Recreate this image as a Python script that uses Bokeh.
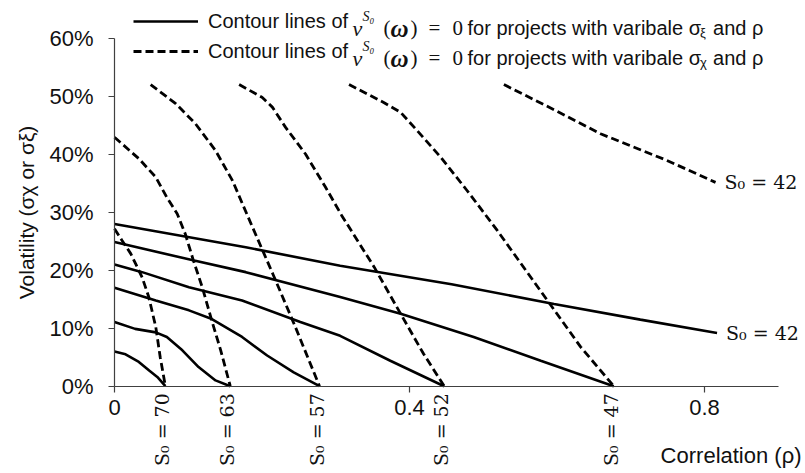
import math
from bokeh.plotting import figure
from bokeh.models import Range1d, FixedTicker, PrintfTickFormatter, Label, Legend, LegendItem
from bokeh.embed import file_html
from bokeh.resources import INLINE

# ---------------- data ----------------
S0_VALUES = [70, 63, 57, 52, 47, 42]

# contour lines, projects with variable sigma_xi and rho (solid)
SOLID_RHO_70 = [0, 0.015, 0.033, 0.047, 0.058, 0.069]
SOLID_SIG_70 = [6.0, 5.5, 4.2, 2.7, 1.6, 0]
SOLID_RHO_63 = [0, 0.028, 0.056, 0.071, 0.092, 0.114, 0.137, 0.157]
SOLID_SIG_63 = [11.1, 9.9, 9.3, 8.5, 6.2, 3.3, 1.0, 0]
SOLID_RHO_57 = [0, 0.056, 0.101, 0.132, 0.173, 0.207, 0.243, 0.278]
SOLID_SIG_57 = [17.0, 14.8, 13.1, 11.6, 8.5, 5.3, 2.4, 0]
SOLID_RHO_52 = [0, 0.0375, 0.101, 0.173, 0.252, 0.306, 0.374, 0.447]
SOLID_SIG_52 = [21.0, 19.7, 17.1, 14.8, 11.1, 8.7, 4.4, 0]
SOLID_RHO_47 = [0, 0.108, 0.178, 0.306, 0.388, 0.487, 0.578, 0.677]
SOLID_SIG_47 = [24.9, 21.7, 19.7, 15.4, 12.5, 8.5, 4.4, 0]
SOLID_RHO_42 = [0, 0.178, 0.306, 0.457, 0.596, 0.713, 0.817]
SOLID_SIG_42 = [28.0, 24.0, 20.8, 17.6, 14.2, 11.5, 9.2]

# contour lines, projects with variable sigma_chi and rho (dashed)
DASH_RHO_70 = [0, 0.010, 0.022, 0.0375, 0.0465, 0.056, 0.062, 0.069]
DASH_SIG_70 = [27.2, 25.2, 22.9, 18.8, 15.4, 10.2, 5.0, 0]
DASH_RHO_63 = [0, 0.033, 0.056, 0.071, 0.085, 0.096, 0.107, 0.119, 0.132, 0.144, 0.157]
DASH_SIG_63 = [43.0, 39.3, 36.1, 32.6, 29.8, 26.3, 21.7, 17.1, 11.3, 6.2, 0]
DASH_RHO_57 = [0.049, 0.083, 0.110, 0.137, 0.160, 0.187, 0.215, 0.245, 0.278]
DASH_SIG_57 = [52.1, 48.8, 45.3, 40.7, 35.5, 27.5, 19.3, 10.3, 0]
DASH_RHO_52 = [0.169, 0.200, 0.214, 0.232, 0.259, 0.286, 0.308, 0.352, 0.388, 0.419, 0.447]
DASH_SIG_52 = [52.1, 49.9, 48.2, 44.7, 40.1, 34.4, 29.5, 20.6, 12.5, 5.6, 0]
DASH_RHO_47 = [0.318, 0.365, 0.388, 0.410, 0.442, 0.478, 0.519, 0.560, 0.596, 0.632, 0.677]
DASH_SIG_47 = [52.1, 49.0, 47.3, 44.2, 39.6, 33.8, 26.9, 19.6, 13.2, 6.8, 0]
DASH_RHO_42 = [0.528, 0.600, 0.659, 0.749, 0.815]
DASH_SIG_42 = [52.1, 47.5, 43.6, 39.0, 35.2]

SOLID = [(SOLID_RHO_70, SOLID_SIG_70), (SOLID_RHO_63, SOLID_SIG_63), (SOLID_RHO_57, SOLID_SIG_57),
         (SOLID_RHO_52, SOLID_SIG_52), (SOLID_RHO_47, SOLID_SIG_47), (SOLID_RHO_42, SOLID_SIG_42)]
DASHED = [(DASH_RHO_70, DASH_SIG_70), (DASH_RHO_63, DASH_SIG_63), (DASH_RHO_57, DASH_SIG_57),
          (DASH_RHO_52, DASH_SIG_52), (DASH_RHO_47, DASH_SIG_47), (DASH_RHO_42, DASH_SIG_42)]

X_TICKS = [0, 0.4, 0.8]
X_TICK_LABELS = ["0", "0.4", "0.8"]
Y_TICKS = [0, 10, 20, 30, 40, 50, 60]

X_TITLE = "Correlation (ρ)"
Y_TITLE = "Volatility (σχ or σξ)"
LEGEND_HEAD = "Contour lines of"
LEGEND_TAIL = "for projects with varibale σ"
LEGEND_SUBS = ["ξ", "χ"]

# ---------------- layout (frame = whole canvas, axes fixed at 0) ----------------
W, H = 805, 473
X0_PX, X_PX = 114.0, 737.5      # pixel of rho = 0, pixels per unit of rho
Y0_PX, Y_PX = 385.7, 5.79       # pixel of 0 %, pixels per percent


def wx(px):
    return (px - X0_PX) / X_PX


def wy(py):
    return (Y0_PX - py) / Y_PX


INK = "#111111"
AXIS = "#404040"
SANS = "Liberation Sans"
SERIF = "Liberation Serif"
LABEL_SERIF = "DejaVu Serif"

p = figure(width=W, height=H, output_backend="svg", toolbar_location=None,
           x_range=Range1d(wx(0), wx(W)), y_range=Range1d(wy(H), wy(0)),
           min_border_left=0, min_border_right=0, min_border_top=0, min_border_bottom=0)
p.outline_line_color = None
p.grid.visible = False
p.background_fill_color = "white"
p.border_fill_color = "white"

solid_r = []
for rho, sig in SOLID:
    solid_r.append(p.line(rho, sig, line_color="black", line_width=2.6))
dash_r = []
for rho, sig in DASHED:
    dash_r.append(p.line(rho, sig, line_color="black", line_width=2.8, line_dash="8 4"))

for ax in (p.xaxis[0], p.yaxis[0]):
    ax.fixed_location = 0
    ax.axis_line_color = AXIS
    ax.axis_line_width = 1.2
    ax.major_tick_line_color = AXIS
    ax.major_tick_line_width = 1.2
    ax.major_tick_in = 0
    ax.major_tick_out = 6
    ax.minor_tick_line_color = None
    ax.major_label_text_font = SANS
    ax.major_label_text_font_size = "22px"
    ax.major_label_text_color = INK

p.xaxis.bounds = (0, 0.9)
p.xaxis.ticker = FixedTicker(ticks=X_TICKS)
p.xaxis.major_label_overrides = dict(zip(X_TICKS, X_TICK_LABELS))
p.xaxis.major_label_standoff = 8
p.yaxis.bounds = (0, 60)
p.yaxis.ticker = FixedTicker(ticks=Y_TICKS)
p.yaxis.formatter = PrintfTickFormatter(format="%d%%")
p.yaxis.major_label_standoff = 15

# axis titles
p.add_layout(Label(x=wx(26), y=30, text=Y_TITLE, angle=math.pi / 2, text_align="center",
                   text_baseline="middle", text_font=SANS, text_font_size="21px", text_color=INK))
p.add_layout(Label(x=wx(801), y=wy(455), text=X_TITLE, text_align="right", text_baseline="alphabetic",
                   text_font=SANS, text_font_size="22px", text_color=INK))

# S0 labels at the foot of each contour pair
for s0, (rho, sig) in zip(S0_VALUES[:-1], SOLID[:-1]):
    p.add_layout(Label(x=rho[-1], y=sig[-1], x_offset=-3, y_offset=-7, angle=math.pi / 2,
                       text=f"S₀ = {s0}", text_align="right", text_baseline="middle",
                       text_font=LABEL_SERIF, text_font_size="19px", text_color=INK))
# S0 = 42 labels at the end of the last lines
for rho, sig in (SOLID[-1], DASHED[-1]):
    p.add_layout(Label(x=rho[-1], y=sig[-1], x_offset=9, text=f"S₀ = {S0_VALUES[-1]}",
                       text_align="left", text_baseline="middle",
                       text_font=LABEL_SERIF, text_font_size="19px", text_color=INK))

# legend: samples + first words, then the formula pieces
legend = Legend(items=[LegendItem(label=LEGEND_HEAD, renderers=[solid_r[0]]),
                       LegendItem(label=LEGEND_HEAD, renderers=[dash_r[0]])],
                location=(133, H - 9 - 54), glyph_width=65, glyph_height=24, label_height=24,
                spacing=6, label_standoff=10, padding=0, margin=0,
                border_line_color=None, background_fill_alpha=0,
                label_text_font=SANS, label_text_font_size="20px", label_text_color=INK)
p.add_layout(legend)

tail_w = 232.6
for row, (base, sub) in enumerate(zip((27.5, 57.5), LEGEND_SUBS)):
    pieces = [
        ("v", 352, 0, SERIF, "22px", "italic"),
        ("S₀", 362, 12, SERIF, "14px", "italic"),
        ("(", 383, 0, SERIF, "21px", "normal"),
        ("ω", 390, 0, SERIF, "25px", "bold italic"),
        (")", 410, 0, SERIF, "21px", "normal"),
        ("=", 428, 0, SERIF, "21px", "normal"),
        ("0", 452, 0, SERIF, "21px", "normal"),
        (LEGEND_TAIL, 467, 0, SANS, "20px", "normal"),
        (sub, 467 + tail_w, -4, SANS, "13px", "normal"),
        ("and ρ", 467 + tail_w + 13, 0, SANS, "20px", "normal"),
    ]
    for text, xw, dy, font, size, style in pieces:
        p.add_layout(Label(x=wx(xw), y=wy(base), y_offset=dy, text=text, text_align="left",
                           text_baseline="alphabetic", text_font=font, text_font_size=size,
                           text_font_style=style, text_color=INK))

open("out.html", "w").write(file_html(p, INLINE))
